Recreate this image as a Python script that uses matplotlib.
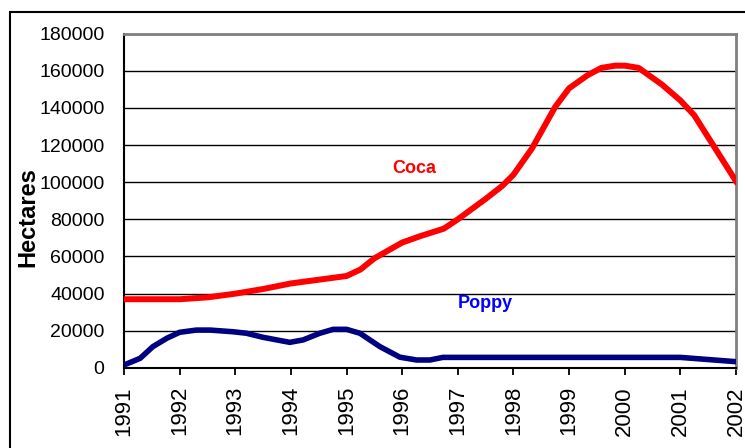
import matplotlib.pyplot as plt
from matplotlib.patches import Rectangle

plt.rcParams['font.family'] = ['Liberation Sans', 'DejaVu Sans']

# Coca cultivation (hectares)
coca_years = [1991.0, 1992.0, 1992.5, 1993.0, 1993.5, 1994.0, 1994.5, 1995.0,
              1995.25, 1995.5, 1996.0, 1996.33, 1996.75, 1997.0, 1997.5, 1997.8,
              1998.0, 1998.33, 1998.75, 1999.0, 1999.33, 1999.58, 1999.83, 2000.0,
              2000.25, 2000.67, 2001.0, 2001.25, 2002.0]
coca_values = [37000, 37000, 38000, 40000, 42500, 45500, 47500, 49500,
               53000, 59000, 67500, 71000, 75000, 80000, 91000, 98000,
               104000, 118000, 140500, 150500, 157500, 161500, 162700, 162700,
               161500, 152500, 144000, 136000, 100500]

# Poppy cultivation (hectares)
poppy_years = [1991.0, 1991.29, 1991.52, 1991.77, 1992.0, 1992.3, 1992.55, 1992.96,
               1993.2, 1993.5, 1993.98, 1994.22, 1994.52, 1994.76, 1995.0, 1995.24,
               1995.6, 1995.96, 1996.26, 1996.5, 1996.73, 2001.0, 2002.0]
poppy_values = [1600, 5200, 11500, 16000, 19200, 20400, 20400, 19500,
                18700, 16500, 13800, 15100, 18700, 20800, 20800, 18700,
                11500, 5800, 4300, 4300, 5700, 5700, 3400]

year_ticks = list(range(1991, 2003))
value_ticks = list(range(0, 180001, 20000))

fig = plt.figure(figsize=(7.45, 4.48), dpi=100)
ax = fig.add_axes([0.1664, 0.1786, 0.8215, 0.7466])

# рамка вокруг всей диаграммы (обрезана справа и снизу)
fig.patches.append(Rectangle((0.0134, -0.2), 1.3, 1.173, transform=fig.transFigure,
                             fill=False, edgecolor='black', linewidth=1.5))

ax.plot(coca_years, coca_values, color='#FF0000', linewidth=4.3,
        solid_joinstyle='round', zorder=3)
ax.plot(poppy_years, poppy_values, color='#000080', linewidth=4.0,
        solid_joinstyle='round', zorder=3)

ax.text(1996.21, 107600, 'Coca', color='#FF0000', fontsize=13,
        fontweight='bold', ha='center', va='center')
ax.text(1997.49, 34500, 'Poppy', color='#0000FF', fontsize=13,
        fontweight='bold', ha='center', va='center')

ax.set_xlim(1991, 2002)
ax.set_ylim(0, 180000)
ax.set_xticks(year_ticks)
ax.set_xticklabels([str(y) for y in year_ticks], rotation=90, va='top')
ax.set_yticks(value_ticks)
ax.set_yticklabels([str(v) for v in value_ticks])

ax.yaxis.grid(True, color='black', linewidth=1.0)
ax.set_axisbelow(True)

ax.tick_params(axis='y', length=0, pad=14, labelsize=14)
ax.tick_params(axis='x', length=5, width=1.3, pad=8, labelsize=16, direction='out')

for side in ['left', 'bottom']:
    ax.spines[side].set_color('black')
    ax.spines[side].set_linewidth(1.5)
for side in ['top', 'right']:
    ax.spines[side].set_color('#808080')
    ax.spines[side].set_linewidth(2)

ax.set_ylabel('Hectares', fontsize=17, fontweight='bold')
ax.yaxis.set_label_coords(-0.138, 0.45)

fig.savefig('out.png', dpi=100)
plt.close()
